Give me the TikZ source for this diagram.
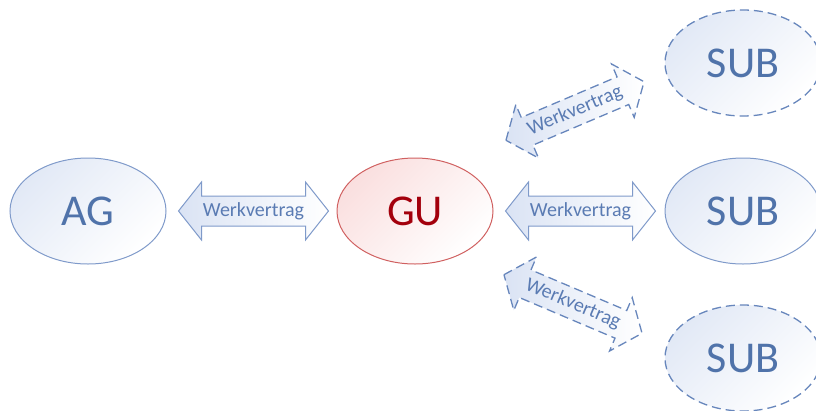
\documentclass[tikz,border=0pt]{standalone}
\usepackage{fontspec}
\setmainfont{Carlito}
\usetikzlibrary{shapes.geometric}

\definecolor{partyline}{HTML}{7F9ACA}
\definecolor{partydash}{HTML}{6786BC}
\definecolor{partytext}{HTML}{5073AA}
\definecolor{partyfill}{HTML}{E2E9F6}
\definecolor{guline}{HTML}{D06060}
\definecolor{gutext}{HTML}{A3000C}
\definecolor{gufill}{HTML}{FADFDF}
\definecolor{arrowfill}{HTML}{DAE3F4}
\definecolor{arrowtext}{HTML}{5A7BB3}

\tikzset{
  party/.style={ellipse, draw=partyline, line width=1pt, inner sep=0pt,
    minimum width=156pt, minimum height=106pt,
    top color=partyfill, bottom color=white, shading angle=45,
    text=partytext, font=\fontsize{44}{44}\selectfont},
  subdashed/.style={party, draw=partydash, line width=1.3pt,
    dash pattern=on 9pt off 5pt},
  mainparty/.style={party, draw=guline, top color=gufill, bottom color=white,
    shading angle=45, text=gutext},
  contract/.style={draw=partyline, line width=1pt, left color=arrowfill,
    right color=white},
  contractdashed/.style={contract, draw=partydash, line width=1.3pt,
    dash pattern=on 9pt off 5pt},
  contractlabel/.style={text=arrowtext, font=\fontsize{20}{20}\selectfont,
    inner sep=0pt},
  pics/bidir/.style={code={
    \path[pic actions] (-75,0) -- (-52,-29) -- (-52,-15) -- (52,-15)
      -- (52,-29) -- (75,0) -- (52,29) -- (52,15) -- (-52,15)
      -- (-52,29) -- cycle;}}
}

\begin{document}
\begin{tikzpicture}[x=1pt, y=-1pt]
  \useasboundingbox (0,0) rectangle (816,410);

  % parties
  \node[party]     (ag)   at (88,211)  {AG};
  \node[mainparty] (gu)   at (415,211) {GU};
  \node[subdashed] (subt) at (743,63)  {SUB};
  \node[party]     (subm) at (743,211) {SUB};
  \node[subdashed] (subb) at (743,358) {SUB};

  % contracts between the parties
  \pic[contract] at (253.5,211) {bidir};
  \node[contractlabel] (wag) at (253.5,211) {Werkvertrag};

  \pic[contract] at (580.5,211) {bidir};
  \node[contractlabel] (wsm) at (580.5,211) {Werkvertrag};

  \pic[contractdashed, rotate=23] at (575,111) {bidir};
  \node[contractlabel, rotate=23] (wst) at (575,111) {Werkvertrag};

  \pic[contractdashed, rotate=-23] at (573,304) {bidir};
  \node[contractlabel, rotate=-23] (wsb) at (573,304) {Werkvertrag};
\end{tikzpicture}
\end{document}
